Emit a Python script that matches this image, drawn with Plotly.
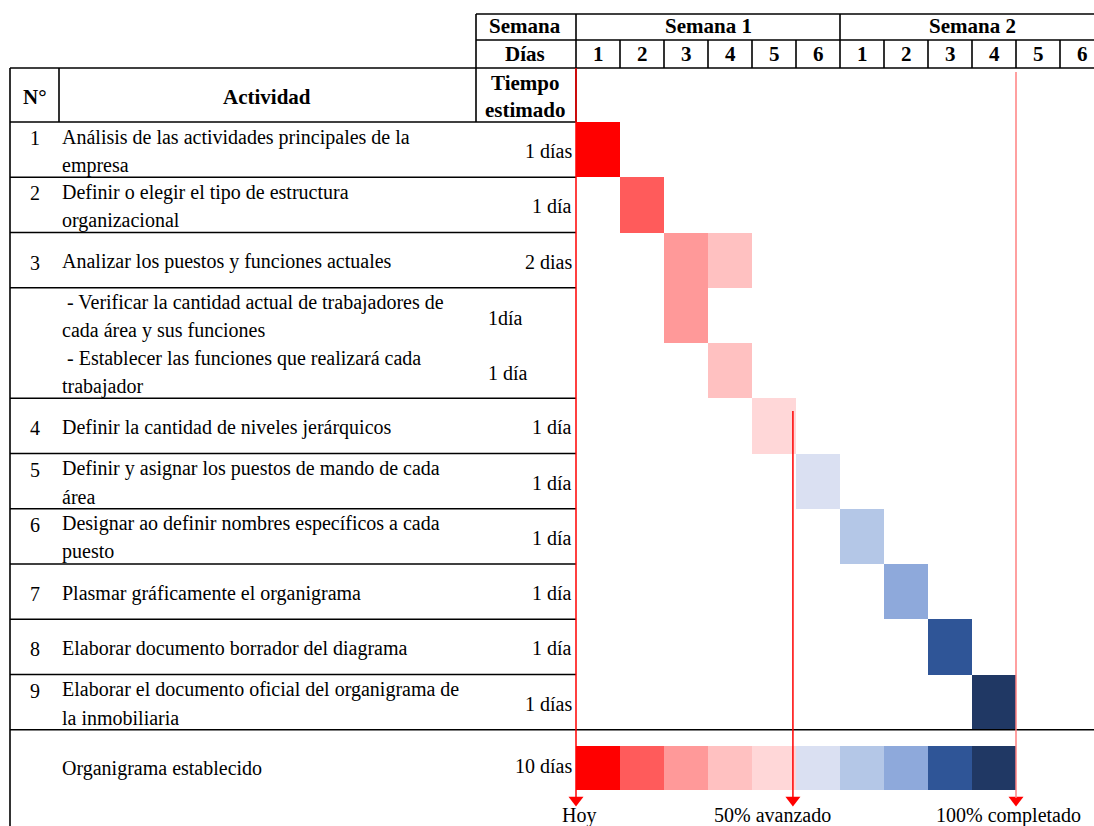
import plotly.graph_objects as go

# ---- data -------------------------------------------------------------
numeros = ["1", "2", "3", "", "", "4", "5", "6", "7", "8", "9"]
actividades = [
    ["Análisis de las actividades principales de la", "empresa"],
    ["Definir o elegir el tipo de estructura", "organizacional"],
    ["Analizar los puestos y funciones actuales"],
    ["- Verificar la cantidad actual de trabajadores de", "cada área y sus funciones"],
    ["- Establecer las funciones que realizará cada", "trabajador"],
    ["Definir la cantidad de niveles jerárquicos"],
    ["Definir y asignar los puestos de mando de cada", "área"],
    ["Designar ao definir nombres específicos a cada", "puesto"],
    ["Plasmar gráficamente el organigrama"],
    ["Elaborar documento borrador del diagrama"],
    ["Elaborar el documento oficial del organigrama de", "la inmobiliaria"],
]
tiempo_estimado = ["1 días", "1 día", "2 dias", "1día", "1 día", "1 día",
                   "1 día", "1 día", "1 día", "1 día", "1 días"]
es_subtarea = [False, False, False, True, True, False, False, False, False, False, False]
dia_inicio = [0, 1, 2, 2, 3, 4, 5, 6, 7, 8, 9]
dias_duracion = [1, 1, 2, 1, 1, 1, 1, 1, 1, 1, 1]

resumen_nombre = "Organigrama establecido"
resumen_tiempo = "10 días"
resumen_inicio = 0
resumen_duracion = 10

semanas = ["Semana 1", "Semana 2"]
dias_por_semana = 6
dias_semana = ["1", "2", "3", "4", "5", "6", "1", "2", "3", "4", "5", "6"]

colores_dia = ["#FF0000", "#FF5B5B", "#FF9999", "#FFC1C1", "#FFD7D8",
               "#DAE0F2", "#B4C7E7", "#8EA9DB", "#2F5597", "#203864"]

hitos_nombre = ["Hoy", "50% avanzado", "100% completado"]
hitos_dia = [0, 4.93, 10]

# ---- layout geometry (pixels -> axis units) -----------------------------
W, H = 1094, 826
X0, DW = 576, 44.0        # left edge of the day grid, width of one day
Y0, RH = 122, 55.25       # top of first activity row, row height
FONT = "Liberation Serif"
FS = 20                   # body text
FH = 21                   # bold header text


def fx(px):
    return (px - X0) / DW


def fy(py):
    return (py - Y0) / RH


def row_top(r):
    return Y0 + r * RH


fig = go.Figure()

# ---- gantt cells -----------------------------------------------------
bar_y, bar_base, bar_len, bar_col, bar_w = [], [], [], [], []
for r, (s, n) in enumerate(zip(dia_inicio, dias_duracion)):
    for d in range(s, s + n):
        bar_y.append(r + 0.5)
        bar_base.append(d)
        bar_len.append(1)
        bar_col.append(colores_dia[d])
        bar_w.append(1.0)

sum_center = fy(768)
sum_height = 44 / RH
for d in range(resumen_inicio, resumen_inicio + resumen_duracion):
    bar_y.append(sum_center)
    bar_base.append(d)
    bar_len.append(1)
    bar_col.append(colores_dia[d])
    bar_w.append(sum_height)

fig.add_trace(go.Bar(
    orientation="h", y=bar_y, x=bar_len, base=bar_base, width=bar_w,
    marker=dict(color=bar_col, line=dict(width=0)),
    hoverinfo="skip", showlegend=False,
))

shapes = []
annotations = []


def hline(y, x1, x2, w=1.6, color="black"):
    shapes.append(dict(type="line", xref="x", yref="y",
                       x0=fx(x1), x1=fx(x2), y0=fy(y), y1=fy(y),
                       line=dict(color=color, width=w)))


def vline(x, y1, y2, w=1.6, color="black"):
    shapes.append(dict(type="line", xref="x", yref="y",
                       x0=fx(x), x1=fx(x), y0=fy(y1), y1=fy(y2),
                       line=dict(color=color, width=w)))


def text(t, x, y, anchor="center", bold=False, size=None):
    if size is None:
        size = FH if bold else FS
    annotations.append(dict(
        xref="x", yref="y", x=fx(x), y=fy(y), text=f"<b>{t}</b>" if bold else t,
        showarrow=False, xanchor=anchor, yanchor="middle", borderpad=0,
        font=dict(family=FONT, size=size, color="black")))


# ---- header grid -----------------------------------------------------
grid_right = X0 + DW * len(dias_semana)
hline(14, 476, grid_right)
hline(40, 476, grid_right)
hline(68, 10, grid_right)
vline(476, 14, 122)
vline(X0, 14, 122)
for k in range(1, len(dias_semana)):
    xk = X0 + DW * k
    if k % dias_por_semana == 0:
        vline(xk, 14, 68)
    else:
        vline(xk, 40, 68)

text("Semana", 525, 26, bold=True)
text("Días", 525, 54, bold=True)
text("Tiempo", 525, 83, bold=True)
text("estimado", 525, 110, bold=True)
for i, s in enumerate(semanas):
    cx = X0 + DW * dias_por_semana * (i + 0.5)
    text(s, cx, 26, bold=True)
for k, d in enumerate(dias_semana):
    text(d, X0 + DW * (k + 0.5), 54, bold=True)

# ---- left table ---------------------------------------------------------
vline(10, 68, H + 5)
vline(59, 68, 122)
hline(122, 10, X0)
text("N°", 35, 97, bold=True)
text("Actividad", 267, 97, bold=True)

for r in range(len(actividades)):
    top = row_top(r)
    bottom = row_top(r + 1)
    # no separator between the two sub-tasks
    if not (es_subtarea[r] and r + 1 < len(es_subtarea) and es_subtarea[r + 1]):
        if r == len(actividades) - 1:
            hline(bottom, 10, W)
        else:
            hline(bottom, 10, X0)
    lines = actividades[r]
    if len(lines) == 2:
        ys = [top + 15, top + 43]
    else:
        ys = [top + 29]
    tx = 66 if es_subtarea[r] else 61
    for j, (ln, yy) in enumerate(zip(lines, ys)):
        lx = tx if j == 0 else 61
        text(ln, lx, yy, anchor="left")
    if numeros[r]:
        text(numeros[r], 35, ys[0] + 1)
    if es_subtarea[r]:
        text(tiempo_estimado[r], 487, top + 30, anchor="left")
    else:
        text(tiempo_estimado[r], 573, top + 29, anchor="right")

text(resumen_nombre, 61, 768, anchor="left")
text(resumen_tiempo, 573, 766, anchor="right")

# ---- milestone markers ----------------------------------------------
hito_top = [68, 411, 72]
hito_color = ["#FF0000", "#FF0000", "#FF8080"]
arrow_tip = 806
for i, (nm, d) in enumerate(zip(hitos_nombre, hitos_dia)):
    shapes.append(dict(type="line", xref="x", yref="y",
                       x0=d, x1=d, y0=fy(hito_top[i]), y1=fy(arrow_tip - 8),
                       line=dict(color=hito_color[i], width=1.5)))
fig.add_trace(go.Scatter(
    x=hitos_dia, y=[fy(arrow_tip - 6)] * len(hitos_dia), mode="markers",
    marker=dict(symbol="triangle-down", size=13, color="#FF0000",
                line=dict(width=0)),
    hoverinfo="skip", showlegend=False,
))
label_dx = [3, -20, -8]
for nm, d, dx in zip(hitos_nombre, hitos_dia, label_dx):
    annotations.append(dict(
        xref="x", yref="y", x=d + dx / DW, y=fy(815), text=nm, showarrow=False,
        xanchor="center", yanchor="middle", borderpad=0,
        font=dict(family=FONT, size=FS, color="black")))

fig.update_layout(
    width=W, height=H, margin=dict(l=0, r=0, t=0, b=0),
    paper_bgcolor="white", plot_bgcolor="white",
    shapes=shapes, annotations=annotations, bargap=0,
    xaxis=dict(range=[fx(0), fx(W)], visible=False, fixedrange=True),
    yaxis=dict(range=[fy(H), fy(0)], visible=False, fixedrange=True),
)

fig.write_html("out.html", config={"displayModeBar": False})
